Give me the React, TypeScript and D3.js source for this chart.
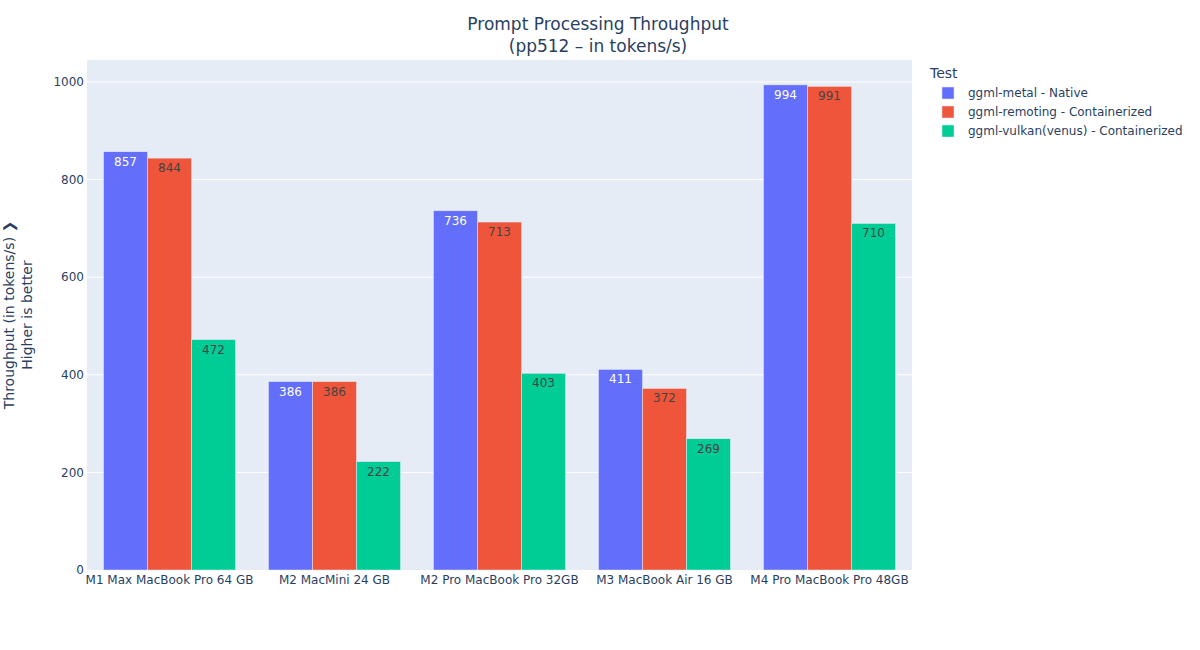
import React from "react";
import * as d3 from "d3";

const categories = [
  "M1 Max MacBook Pro 64 GB",
  "M2 MacMini 24 GB",
  "M2 Pro MacBook Pro 32GB",
  "M3 MacBook Air 16 GB",
  "M4 Pro MacBook Pro 48GB",
];
const seriesNames = [
  "ggml-metal - Native",
  "ggml-remoting - Containerized",
  "ggml-vulkan(venus) - Containerized",
];
const metalValues = [857, 386, 736, 411, 994];
const remotingValues = [844, 386, 713, 372, 991];
const vulkanValues = [472, 222, 403, 269, 710];
const yTicks = [0, 200, 400, 600, 800, 1000];
const colors = ["#636efa", "#EF553B", "#00cc96"];
const textColors = ["#ffffff", "#444444", "#444444"];

const W = 1200;
const H = 650;
const M = { left: 87, right: 912, top: 60, bottom: 570 };
const FONT = "'DejaVu Sans', Verdana, sans-serif";

export default function App() {
  const series = [metalValues, remotingValues, vulkanValues];
  const x0 = d3.scaleBand<string>().domain(categories).range([M.left, M.right]).paddingInner(0.2).paddingOuter(0.1);
  const x1 = d3.scaleBand<number>().domain([0, 1, 2]).range([0, x0.bandwidth()]);
  const y = d3.scaleLinear().domain([0, 1045]).range([M.bottom, M.top]);

  return (
    <svg width={W} height={H} style={{ position: "absolute", left: 0, top: 0, fontFamily: FONT }}>
      <rect x={0} y={0} width={W} height={H} fill="#fff" />
      <rect x={M.left} y={M.top} width={M.right - M.left} height={M.bottom - M.top} fill="#E5ECF6" />
      {yTicks.map((t) => (
        <g key={t}>
          {t > 0 && <line x1={M.left} x2={M.right} y1={y(t)} y2={y(t)} stroke="#fff" strokeWidth={1} />}
          <text x={M.left - 3} y={y(t)} dy="0.35em" textAnchor="end" fontSize={12} fill="#2a3f5f">
            {t}
          </text>
        </g>
      ))}
      {categories.map((c, i) => (
        <g key={c}>
          {series.map((vals, s) => {
            const bx = (x0(c) as number) + (x1(s) as number);
            const by = y(vals[i]);
            return (
              <g key={s}>
                <rect
                  x={bx}
                  y={by}
                  width={x1.bandwidth()}
                  height={M.bottom - by}
                  fill={colors[s]}
                  stroke="#E5ECF6"
                  strokeWidth={0.5}
                />
                <text
                  x={bx + x1.bandwidth() / 2}
                  y={by + 14}
                  textAnchor="middle"
                  fontSize={12}
                  fill={textColors[s]}
                >
                  {vals[i]}
                </text>
              </g>
            );
          })}
          <text
            x={(x0(c) as number) + x0.bandwidth() / 2}
            y={M.bottom + 14}
            textAnchor="middle"
            fontSize={12}
            fill="#2a3f5f"
          >
            {c}
          </text>
        </g>
      ))}
      <text x={598} y={30} textAnchor="middle" fontSize={17} fill="#2a3f5f">
        <tspan x={598} dy={0}>Prompt Processing Throughput</tspan>
        <tspan x={598} dy={22}>(pp512 – in tokens/s)</tspan>
      </text>
      <text transform={`translate(14,${(M.top + M.bottom) / 2}) rotate(-90)`} textAnchor="middle" fontSize={14} fill="#2a3f5f">
        <tspan x={0} dy={0}>Throughput (in tokens/s) ❯</tspan>
        <tspan x={0} dy={18}>Higher is better</tspan>
      </text>
      <text x={930} y={78} fontSize={14} fill="#2a3f5f">Test</text>
      {seriesNames.map((n, s) => (
        <g key={n} transform={`translate(942,${93 + s * 19})`}>
          <rect x={0} y={-6} width={12} height={12} fill={colors[s]} stroke="#E5ECF6" strokeWidth={0.5} />
          <text x={26} y={0} dy="0.35em" fontSize={12} fill="#2a3f5f">{n}</text>
        </g>
      ))}
    </svg>
  );
}
